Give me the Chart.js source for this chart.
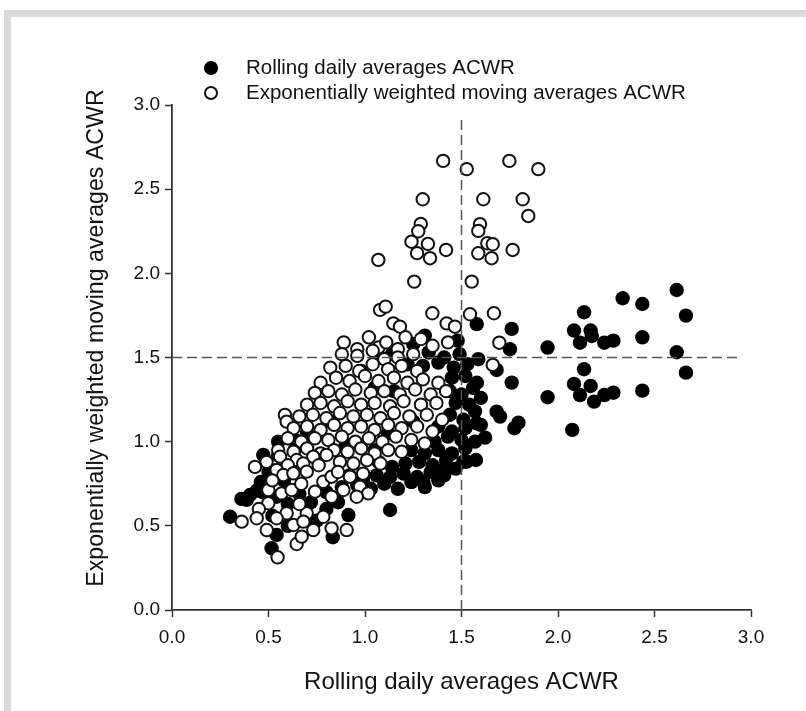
<!DOCTYPE html>
<html>
<head>
<meta charset="utf-8">
<title>ACWR comparison</title>
<style>
  html, body { margin: 0; padding: 0; background: #ffffff; }
  #wrap { position: relative; width: 806px; height: 711px; overflow: hidden; background: #ffffff; }
  #frame { position: absolute; left: 4px; top: 10px; right: -20px; bottom: -20px;
           border-left: 7px solid #dadada; border-top: 7px solid #dadada; }
  #chart { position: absolute; left: 0; top: 0; }
</style>
<script src="https://cdn.jsdelivr.net/npm/chart.js@4.4.1/dist/chart.umd.min.js"></script>
</head>
<body>
<div id="wrap">
  <div id="frame"></div>
  <canvas id="chart" width="806" height="711"></canvas>
</div>
<script>
// ---- Labels ----
const seriesLabels = ['Rolling daily averages ACWR', 'Exponentially weighted moving averages ACWR'];
const xTitle = 'Rolling daily averages ACWR';
const yTitle = 'Exponentially weighted moving averages ACWR';
const tickLabels = ['0.0', '0.5', '1.0', '1.5', '2.0', '2.5', '3.0'];
const refValue = 1.5;     // threshold lines on both axes
const refExtent = 2.93;   // how far the threshold lines run

// ---- Exponentially weighted (open circles) ----
const ewmaHigh = [
  [1.405,2.668],[1.527,2.619],[1.748,2.668],[1.898,2.619],
  [1.299,2.44],[1.613,2.44],[1.817,2.44],[1.846,2.341],
  [1.289,2.294],[1.276,2.25],[1.241,2.188],[1.326,2.175],[1.27,2.12],[1.337,2.09],[1.42,2.139],
  [1.596,2.292],[1.587,2.252],[1.634,2.179],[1.662,2.173],[1.587,2.119],[1.656,2.09],[1.765,2.139],
  [1.069,2.08],[1.255,1.951],[1.553,1.951],
  [1.078,1.783],[1.107,1.802],[1.147,1.703],[1.181,1.683],[1.349,1.763],[1.544,1.757],
  [1.668,1.763],[1.423,1.703],[1.466,1.683],[1.696,1.588],[1.662,1.456]
];
const ewmaUpper = [
  [0.89,1.59],[0.96,1.55],[1.02,1.62],[1.07,1.56],[1.11,1.59],[1.17,1.55],[1.21,1.62],[1.29,1.61],[1.35,1.57],[1.43,1.59],
  [0.88,1.52],[0.96,1.51],[1.04,1.54],[1.1,1.49],[1.17,1.5],[1.25,1.52],
  [0.82,1.44],[0.9,1.45],[0.97,1.42],[1.04,1.46],[1.12,1.43],[1.19,1.45],[1.27,1.42],
  [0.77,1.35],[0.85,1.38],[0.92,1.36],[1.0,1.39],[1.07,1.36],[1.15,1.38],[1.22,1.35],[1.3,1.37],[1.38,1.35],
  [0.74,1.29],[0.81,1.3],[0.88,1.28],[0.95,1.31],[1.03,1.29],[1.1,1.3],[1.18,1.28],[1.26,1.31],[1.34,1.28],[1.42,1.3],
  [0.7,1.22],[0.77,1.23],[0.84,1.21],[0.91,1.24],[0.98,1.22],[1.05,1.23],[1.13,1.21],[1.2,1.24],[1.29,1.22],[1.37,1.23]
];
const ewmaMiddle = [
  [0.585,1.159],[0.66,1.15],[0.73,1.16],[0.8,1.14],[0.87,1.17],[0.94,1.15],[1.01,1.16],[1.08,1.14],[1.15,1.17],[1.23,1.15],[1.32,1.16],[1.4,1.13],
  [0.594,1.119],[0.63,1.08],[0.7,1.09],[0.77,1.07],[0.84,1.1],[0.91,1.08],[0.98,1.09],[1.05,1.07],[1.12,1.1],[1.19,1.08],[1.27,1.09],[1.35,1.06],
  [0.6,1.02],[0.67,1.0],[0.74,1.02],[0.81,1.01],[0.88,1.03],[0.95,1.0],[1.02,1.02],[1.09,1.0],[1.16,1.03],[1.24,1.01],[1.31,0.99],
  [0.55,0.95],[0.63,0.94],[0.7,0.96],[0.77,0.93],[0.84,0.95],[0.91,0.94],[0.98,0.96],[1.05,0.93],[1.12,0.95],[1.19,0.94]
];
const ewmaLower = [
  [0.43,0.85],[0.49,0.88],[0.56,0.911],[0.646,0.891],[0.732,0.911],[0.801,0.921],[0.6,0.86],[0.68,0.87],[0.76,0.86],[0.87,0.88],[0.94,0.87],[1.01,0.89],[1.08,0.87],
  [0.542,0.832],[0.577,0.802],[0.629,0.812],[0.698,0.822],[0.784,0.762],[0.827,0.792],[0.922,0.792],[0.86,0.82],[0.99,0.81],
  [0.499,0.713],[0.568,0.693],[0.62,0.713],[0.741,0.703],[0.827,0.673],[0.888,0.713],[0.974,0.733],[1.017,0.693],[0.957,0.673],[0.67,0.75],[0.52,0.77],
  [0.499,0.634],[0.594,0.575],[0.698,0.575],[0.784,0.554],[0.542,0.545],[0.66,0.63],[0.45,0.6],
  [0.361,0.525],[0.439,0.545],[0.491,0.475],[0.629,0.505],[0.681,0.525],[0.732,0.475],[0.827,0.485],[0.905,0.475],
  [0.646,0.392],[0.672,0.436],[0.547,0.313]
];

// ---- Rolling daily averages (filled circles) ----
const rollingHigh = [
  [2.615,1.901],[2.335,1.852],[2.437,1.818],[2.135,1.769],[2.663,1.749],[1.579,1.698],[1.76,1.67],
  [2.083,1.66],[2.169,1.66],[2.114,1.588],[2.175,1.628],[2.24,1.588],[2.287,1.6],[2.437,1.62],
  [1.946,1.559],[1.751,1.549],[2.615,1.531],[2.663,1.41],[2.135,1.43],[1.76,1.351],[2.083,1.343],
  [2.169,1.331],[2.114,1.277],[2.187,1.238],[2.24,1.277],[2.287,1.291],[2.437,1.303],[1.946,1.264],
  [1.682,1.178],[1.7,1.149],[1.795,1.113],[1.774,1.08],[2.074,1.07],[1.622,1.024],[1.579,1.109],
  [1.575,0.891],[1.527,0.881],[1.682,1.426],[1.587,1.49]
];
const rollingEdge = [
  [0.301,0.554],[0.387,0.654],[0.404,0.683],[0.473,0.921],[0.542,0.446],[0.516,0.367],[0.542,0.673],
  [0.833,0.432],[0.914,0.564],[1.13,0.594],[0.637,1.01],[0.46,0.76],[0.5,0.82],[0.47,0.7],[0.6,0.63],
  [0.58,0.77],[0.66,0.69],[0.72,0.64],[0.8,0.6],[0.86,0.64],[0.55,0.92],[0.64,0.96],
  [0.6,0.5],[0.75,0.53],[0.52,0.56],[0.44,0.71],[0.36,0.66]
];
const rollingBand = [
  [0.96,0.74],[1.03,0.72],[1.1,0.75],[1.17,0.72],[1.24,0.76],[1.31,0.73],[1.38,0.77],[1.302,0.762],
  [0.92,0.8],[0.99,0.78],[1.06,0.8],[1.13,0.79],[1.2,0.81],[1.27,0.79],[1.34,0.82],[1.41,0.8],[1.406,0.832],[1.47,0.84],
  [1.07,0.88],[1.14,0.85],[1.21,0.87],[1.28,0.88],[1.35,0.86],[1.42,0.89],[1.51,0.881],
  [1.24,0.95],[1.31,0.93],[1.38,0.95],[1.45,0.93],[1.52,0.96],
  [1.36,1.0],[1.43,1.03],[1.5,1.01],[1.57,1.0],
  [1.38,1.09],[1.45,1.06],[1.52,1.08],[1.6,1.1],
  [1.44,1.16],[1.51,1.13],[1.57,1.18],
  [1.47,1.23],[1.54,1.22],[1.6,1.26],
  [1.44,1.3],[1.5,1.28],[1.56,1.32],
  [1.45,1.38],[1.52,1.39],[1.58,1.35],
  [1.22,1.46],[1.3,1.45],[1.38,1.47],[1.46,1.44],[1.53,1.46],
  [1.08,1.5],[1.14,1.52],[1.33,1.53],[1.41,1.5],[1.49,1.52],
  [1.25,1.58],[1.31,1.63],[1.48,1.6]
];
const rollingInner = [
  [0.7,1.05],[0.82,1.12],[0.9,0.98],[0.75,0.9],[1.05,1.32],[1.12,1.05],
  [0.98,1.42],[1.15,1.3],[1.25,1.12],[0.8,0.7],[0.88,0.73],[1.05,0.95],[0.55,1.0]
];

const toXY = arr => arr.map(p => ({ x: p[0], y: p[1] }));
const ewmaPoints = [].concat(ewmaHigh, ewmaUpper, ewmaMiddle, ewmaLower);
const rollingPoints = [].concat(rollingHigh, rollingEdge, rollingBand, rollingInner);

const FONT = '"Liberation Sans", Arial, Helvetica, sans-serif';
const INK = '#111111';

// Dashed threshold lines at 1.5 on both axes
const thresholdLines = {
  id: 'thresholdLines',
  afterDatasetsDraw(chart) {
    const { ctx, scales: { x, y } } = chart;
    ctx.save();
    ctx.strokeStyle = '#555';
    ctx.lineWidth = 1.5;
    ctx.setLineDash([10, 5]);
    const xv = x.getPixelForValue(refValue);
    ctx.beginPath();
    ctx.moveTo(xv, y.getPixelForValue(0));
    ctx.lineTo(xv, y.getPixelForValue(refExtent));
    ctx.stroke();
    const yv = y.getPixelForValue(refValue);
    ctx.beginPath();
    ctx.moveTo(x.getPixelForValue(0), yv);
    ctx.lineTo(x.getPixelForValue(refExtent), yv);
    ctx.stroke();
    ctx.restore();
  }
};

// Two-row key above the plot and the rotated y-axis title
const keyPlugin = {
  id: 'keyPlugin',
  afterDraw(chart) {
    const { ctx } = chart;
    const mx = 211, tx = 246, rows = [68, 93];
    ctx.save();
    ctx.fillStyle = '#000';
    ctx.beginPath();
    ctx.arc(mx, rows[0], 7, 0, Math.PI * 2);
    ctx.fill();
    ctx.strokeStyle = '#111';
    ctx.lineWidth = 2;
    ctx.fillStyle = '#fff';
    ctx.beginPath();
    ctx.arc(mx, rows[1], 6, 0, Math.PI * 2);
    ctx.fill();
    ctx.stroke();
    ctx.fillStyle = INK;
    ctx.font = '20.5px ' + FONT;
    ctx.textBaseline = 'middle';
    ctx.textAlign = 'left';
    ctx.fillText(seriesLabels[0], tx, rows[0]);
    ctx.fillText(seriesLabels[1], tx, rows[1]);

    ctx.translate(97, 338);
    ctx.rotate(-Math.PI / 2);
    ctx.textAlign = 'center';
    ctx.font = '23.2px ' + FONT;
    ctx.fillText(yTitle, 0, 0);
    ctx.restore();
  }
};

const axisCommon = {
  type: 'linear',
  min: 0,
  max: 3,
  grid: { display: true, drawOnChartArea: false, drawTicks: true, tickLength: 7, color: '#333', tickWidth: 1.5 },
  border: { display: true, color: '#333', width: 1.8 }
};

new Chart(document.getElementById('chart'), {
  type: 'scatter',
  data: {
    datasets: [
      {
        label: seriesLabels[1],
        data: toXY(ewmaPoints),
        pointRadius: 6.2,
        pointHoverRadius: 6.2,
        pointBorderWidth: 2,
        pointBackgroundColor: '#ffffff',
        pointBorderColor: '#111111'
      },
      {
        label: seriesLabels[0],
        data: toXY(rollingPoints),
        pointRadius: 7.2,
        pointHoverRadius: 7.2,
        pointBorderWidth: 0,
        pointBackgroundColor: '#000000',
        pointBorderColor: '#000000'
      }
    ]
  },
  options: {
    responsive: false,
    animation: false,
    devicePixelRatio: 1,
    layout: { padding: { left: 0, top: 105, right: 55, bottom: 0 } },
    plugins: { legend: { display: false }, tooltip: { enabled: false } },
    scales: {
      x: Object.assign({}, axisCommon, {
        position: 'bottom',
        ticks: {
          stepSize: 0.5, autoSkip: false, maxRotation: 0, padding: 9,
          color: INK, font: { family: FONT, size: 19 },
          callback: (v, i) => tickLabels[i]
        },
        title: { display: true, text: xTitle, color: INK, font: { family: FONT, size: 24 }, padding: { top: 0, bottom: 14 } },
        afterFit: s => { s.height = 101; }
      }),
      y: Object.assign({}, axisCommon, {
        position: 'left',
        ticks: {
          stepSize: 0.5, autoSkip: false, padding: 5,
          color: INK, font: { family: FONT, size: 19 },
          callback: (v, i) => tickLabels[i]
        },
        title: { display: false },
        afterFit: s => { s.width = 172; }
      })
    }
  },
  plugins: [thresholdLines, keyPlugin]
});
</script>
</body>
</html>
